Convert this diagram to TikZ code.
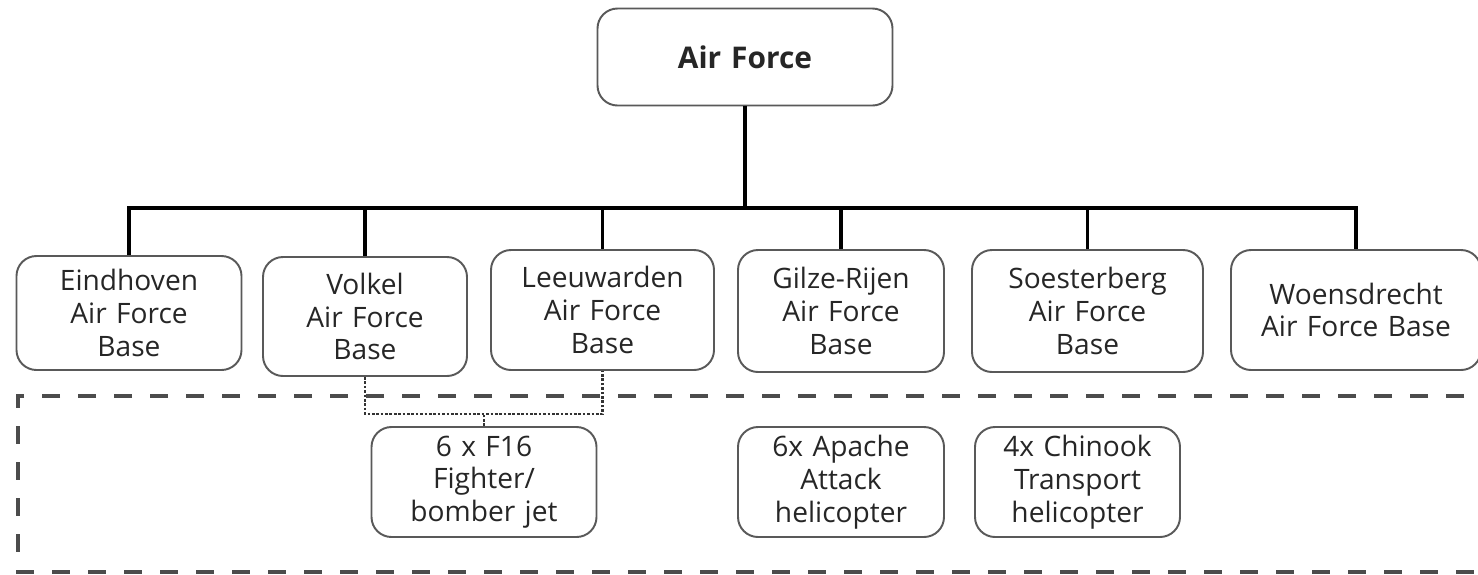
\documentclass[tikz,border=0pt]{standalone}
\usepackage{fontspec}
\setmainfont{Open Sans}
\begin{document}
\begin{tikzpicture}[
basenode/.style={rounded corners=0.4cm, draw=black!65, line width=1.1pt, fill=white, text=black!85, align=center, inner xsep=0.2cm, font=\fontsize{16}{18.6}\selectfont},
orgline/.style={line width=1.8pt, black},
linkline/.style={densely dotted, line width=1.5pt, black!80},
groupbox/.style={dash pattern=on 0.36cm off 0.36cm, line width=2.4pt, black!70},
]
\useasboundingbox (0,0) rectangle (29.56,-11.48);
%Nodes
\node[basenode, text width=5.5cm, minimum height=1.94cm, font=\fontsize{17}{19}\selectfont\bfseries] (airforce) at (14.9,-1.14) {Air Force};
\node[basenode, text width=4.1cm, minimum height=2.28cm] (eindhoven) at (2.58,-6.26) {Eindhoven\\Air Force\\Base};
\node[basenode, text width=3.68cm, minimum height=2.38cm] (volkel) at (7.3,-6.33) {Volkel\\Air Force\\Base};
\node[basenode, text width=4.06cm, minimum height=2.4cm] (leeuwarden) at (12.05,-6.2) {Leeuwarden\\Air Force\\Base};
\node[basenode, text width=3.72cm, minimum height=2.44cm] (gilzerijen) at (16.82,-6.22) {Gilze-Rijen\\Air Force\\Base};
\node[basenode, text width=4.22cm, minimum height=2.44cm] (soesterberg) at (21.75,-6.22) {Soesterberg\\Air Force\\Base};
\node[basenode, text width=4.6cm, minimum height=2.4cm] (woensdrecht) at (27.12,-6.2) {Woensdrecht\\Air Force Base};
\node[basenode, text width=4.1cm, minimum height=2.2cm] (fighters) at (9.68,-9.64) {6 x F16\\Fighter/\\bomber jet};
\node[basenode, text width=3.72cm, minimum height=2.2cm] (apache) at (16.82,-9.64) {6x Apache\\Attack\\helicopter};
\node[basenode, text width=3.7cm, minimum height=2.2cm] (chinook) at (21.55,-9.64) {4x Chinook\\Transport\\helicopter};
\coordinate (bus) at (0,-4.16);
\coordinate (join) at (0,-8.28);

%Lines
\foreach \base in {eindhoven,volkel,leeuwarden,gilzerijen,soesterberg,woensdrecht}
  \draw[orgline] (airforce.south) -- (airforce.south |- bus) -| (\base.north);
\draw[linkline] (volkel.south) -- (volkel.south |- join) -| (leeuwarden.south);
\draw[linkline] (fighters.north) -- (fighters.north |- join);
\draw[groupbox] (30,-7.92) -- (0.36,-7.92) -- (0.36,-11.44) -- (30,-11.44);

\end{tikzpicture}
\end{document}
